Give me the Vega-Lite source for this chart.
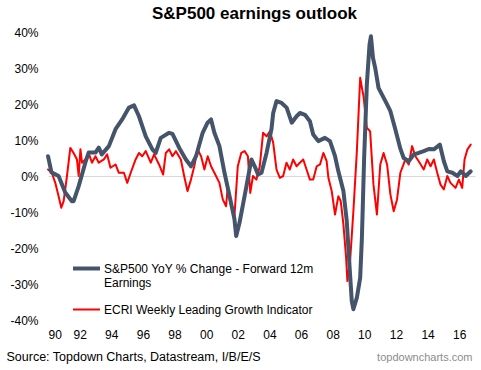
{
  "$schema": "https://vega.github.io/schema/vega-lite/v6.json",
  "width": 427,
  "height": 288,
  "autosize": {"type": "none"},
  "padding": {"left": 48, "top": 32, "right": 6, "bottom": 50},
  "background": "white",
  "title": {"text": "S&P500 earnings outlook", "fontSize": 17, "fontWeight": "bold", "font": "Liberation Sans", "color": "#000000", "anchor": "middle", "frame": "group", "dx": -7, "offset": 3},
  "config": {"view": {"stroke": null}, "font": "Liberation Sans"},
  "data": {"values": [
    {"series": "ECRI Weekly Leading Growth Indicator", "year": 1990.0, "value": 1.8},
    {"series": "ECRI Weekly Leading Growth Indicator", "year": 1990.24, "value": 0.9},
    {"series": "ECRI Weekly Leading Growth Indicator", "year": 1990.46, "value": -1.9},
    {"series": "ECRI Weekly Leading Growth Indicator", "year": 1990.67, "value": -5.6},
    {"series": "ECRI Weekly Leading Growth Indicator", "year": 1990.84, "value": -8.8},
    {"series": "ECRI Weekly Leading Growth Indicator", "year": 1990.99, "value": -7},
    {"series": "ECRI Weekly Leading Growth Indicator", "year": 1991.2, "value": 0},
    {"series": "ECRI Weekly Leading Growth Indicator", "year": 1991.41, "value": 7.8},
    {"series": "ECRI Weekly Leading Growth Indicator", "year": 1991.62, "value": 6.4},
    {"series": "ECRI Weekly Leading Growth Indicator", "year": 1991.83, "value": 4.6},
    {"series": "ECRI Weekly Leading Growth Indicator", "year": 1991.94, "value": 0},
    {"series": "ECRI Weekly Leading Growth Indicator", "year": 1992.05, "value": 7.4},
    {"series": "ECRI Weekly Leading Growth Indicator", "year": 1992.15, "value": 3.7},
    {"series": "ECRI Weekly Leading Growth Indicator", "year": 1992.36, "value": 4.6},
    {"series": "ECRI Weekly Leading Growth Indicator", "year": 1992.57, "value": 6.4},
    {"series": "ECRI Weekly Leading Growth Indicator", "year": 1992.78, "value": 3.7},
    {"series": "ECRI Weekly Leading Growth Indicator", "year": 1993.0, "value": 5.5},
    {"series": "ECRI Weekly Leading Growth Indicator", "year": 1993.21, "value": 3.7},
    {"series": "ECRI Weekly Leading Growth Indicator", "year": 1993.53, "value": 4.6},
    {"series": "ECRI Weekly Leading Growth Indicator", "year": 1993.74, "value": 6},
    {"series": "ECRI Weekly Leading Growth Indicator", "year": 1993.95, "value": 2.3},
    {"series": "ECRI Weekly Leading Growth Indicator", "year": 1994.27, "value": 3.2},
    {"series": "ECRI Weekly Leading Growth Indicator", "year": 1994.48, "value": 0.9},
    {"series": "ECRI Weekly Leading Growth Indicator", "year": 1994.8, "value": 0.9},
    {"series": "ECRI Weekly Leading Growth Indicator", "year": 1995.01, "value": -1.9},
    {"series": "ECRI Weekly Leading Growth Indicator", "year": 1995.23, "value": 0.9},
    {"series": "ECRI Weekly Leading Growth Indicator", "year": 1995.54, "value": 4.6},
    {"series": "ECRI Weekly Leading Growth Indicator", "year": 1995.75, "value": 6.4},
    {"series": "ECRI Weekly Leading Growth Indicator", "year": 1995.96, "value": 5.5},
    {"series": "ECRI Weekly Leading Growth Indicator", "year": 1996.18, "value": 6.9},
    {"series": "ECRI Weekly Leading Growth Indicator", "year": 1996.5, "value": 3.7},
    {"series": "ECRI Weekly Leading Growth Indicator", "year": 1996.71, "value": 6},
    {"series": "ECRI Weekly Leading Growth Indicator", "year": 1997.02, "value": 3.2},
    {"series": "ECRI Weekly Leading Growth Indicator", "year": 1997.28, "value": 0.4},
    {"series": "ECRI Weekly Leading Growth Indicator", "year": 1997.45, "value": 6.4},
    {"series": "ECRI Weekly Leading Growth Indicator", "year": 1997.66, "value": 7.4},
    {"series": "ECRI Weekly Leading Growth Indicator", "year": 1997.87, "value": 5.5},
    {"series": "ECRI Weekly Leading Growth Indicator", "year": 1998.09, "value": 6.9},
    {"series": "ECRI Weekly Leading Growth Indicator", "year": 1998.4, "value": 4.6},
    {"series": "ECRI Weekly Leading Growth Indicator", "year": 1998.61, "value": 0},
    {"series": "ECRI Weekly Leading Growth Indicator", "year": 1998.82, "value": -4.2},
    {"series": "ECRI Weekly Leading Growth Indicator", "year": 1999.04, "value": -1},
    {"series": "ECRI Weekly Leading Growth Indicator", "year": 1999.25, "value": 2.7},
    {"series": "ECRI Weekly Leading Growth Indicator", "year": 1999.46, "value": 7.4},
    {"series": "ECRI Weekly Leading Growth Indicator", "year": 1999.68, "value": 5.5},
    {"series": "ECRI Weekly Leading Growth Indicator", "year": 1999.89, "value": 1.8},
    {"series": "ECRI Weekly Leading Growth Indicator", "year": 2000.1, "value": 5.5},
    {"series": "ECRI Weekly Leading Growth Indicator", "year": 2000.31, "value": 2.7},
    {"series": "ECRI Weekly Leading Growth Indicator", "year": 2000.52, "value": 0.9},
    {"series": "ECRI Weekly Leading Growth Indicator", "year": 2000.84, "value": -1.9},
    {"series": "ECRI Weekly Leading Growth Indicator", "year": 2001.05, "value": -6.5},
    {"series": "ECRI Weekly Leading Growth Indicator", "year": 2001.26, "value": -8.4},
    {"series": "ECRI Weekly Leading Growth Indicator", "year": 2001.37, "value": -2.8},
    {"series": "ECRI Weekly Leading Growth Indicator", "year": 2001.58, "value": -8.4},
    {"series": "ECRI Weekly Leading Growth Indicator", "year": 2001.79, "value": -11.1},
    {"series": "ECRI Weekly Leading Growth Indicator", "year": 2002.0, "value": 2.7},
    {"series": "ECRI Weekly Leading Growth Indicator", "year": 2002.22, "value": 6.4},
    {"series": "ECRI Weekly Leading Growth Indicator", "year": 2002.43, "value": 6.9},
    {"series": "ECRI Weekly Leading Growth Indicator", "year": 2002.64, "value": 5.5},
    {"series": "ECRI Weekly Leading Growth Indicator", "year": 2002.79, "value": -4.7},
    {"series": "ECRI Weekly Leading Growth Indicator", "year": 2002.96, "value": 0},
    {"series": "ECRI Weekly Leading Growth Indicator", "year": 2003.18, "value": -1},
    {"series": "ECRI Weekly Leading Growth Indicator", "year": 2003.39, "value": 2.7},
    {"series": "ECRI Weekly Leading Growth Indicator", "year": 2003.6, "value": 12},
    {"series": "ECRI Weekly Leading Growth Indicator", "year": 2003.82, "value": 11},
    {"series": "ECRI Weekly Leading Growth Indicator", "year": 2004.03, "value": 12.4},
    {"series": "ECRI Weekly Leading Growth Indicator", "year": 2004.24, "value": 9.2},
    {"series": "ECRI Weekly Leading Growth Indicator", "year": 2004.45, "value": 1.8},
    {"series": "ECRI Weekly Leading Growth Indicator", "year": 2004.66, "value": -0.5},
    {"series": "ECRI Weekly Leading Growth Indicator", "year": 2004.87, "value": 0},
    {"series": "ECRI Weekly Leading Growth Indicator", "year": 2005.08, "value": 3.7},
    {"series": "ECRI Weekly Leading Growth Indicator", "year": 2005.29, "value": 1.8},
    {"series": "ECRI Weekly Leading Growth Indicator", "year": 2005.5, "value": 4.6},
    {"series": "ECRI Weekly Leading Growth Indicator", "year": 2005.72, "value": 2.7},
    {"series": "ECRI Weekly Leading Growth Indicator", "year": 2005.93, "value": 3.7},
    {"series": "ECRI Weekly Leading Growth Indicator", "year": 2006.14, "value": 4.6},
    {"series": "ECRI Weekly Leading Growth Indicator", "year": 2006.35, "value": 1.8},
    {"series": "ECRI Weekly Leading Growth Indicator", "year": 2006.56, "value": -1},
    {"series": "ECRI Weekly Leading Growth Indicator", "year": 2006.77, "value": -1},
    {"series": "ECRI Weekly Leading Growth Indicator", "year": 2006.99, "value": 2.7},
    {"series": "ECRI Weekly Leading Growth Indicator", "year": 2007.2, "value": 3.2},
    {"series": "ECRI Weekly Leading Growth Indicator", "year": 2007.41, "value": 6.4},
    {"series": "ECRI Weekly Leading Growth Indicator", "year": 2007.62, "value": 4.1},
    {"series": "ECRI Weekly Leading Growth Indicator", "year": 2007.73, "value": -0.5},
    {"series": "ECRI Weekly Leading Growth Indicator", "year": 2007.94, "value": -4.2},
    {"series": "ECRI Weekly Leading Growth Indicator", "year": 2008.15, "value": -10.7},
    {"series": "ECRI Weekly Leading Growth Indicator", "year": 2008.36, "value": -5.6},
    {"series": "ECRI Weekly Leading Growth Indicator", "year": 2008.51, "value": -7},
    {"series": "ECRI Weekly Leading Growth Indicator", "year": 2008.68, "value": -13.5},
    {"series": "ECRI Weekly Leading Growth Indicator", "year": 2008.85, "value": -22.7},
    {"series": "ECRI Weekly Leading Growth Indicator", "year": 2008.93, "value": -29.2},
    {"series": "ECRI Weekly Leading Growth Indicator", "year": 2009.1, "value": -23.7},
    {"series": "ECRI Weekly Leading Growth Indicator", "year": 2009.31, "value": -9.8},
    {"series": "ECRI Weekly Leading Growth Indicator", "year": 2009.53, "value": 6.9},
    {"series": "ECRI Weekly Leading Growth Indicator", "year": 2009.74, "value": 27.3},
    {"series": "ECRI Weekly Leading Growth Indicator", "year": 2009.85, "value": 24.5},
    {"series": "ECRI Weekly Leading Growth Indicator", "year": 2009.95, "value": 22.2},
    {"series": "ECRI Weekly Leading Growth Indicator", "year": 2010.16, "value": 13.4},
    {"series": "ECRI Weekly Leading Growth Indicator", "year": 2010.37, "value": 12.4},
    {"series": "ECRI Weekly Leading Growth Indicator", "year": 2010.58, "value": -2.4},
    {"series": "ECRI Weekly Leading Growth Indicator", "year": 2010.8, "value": -10.7},
    {"series": "ECRI Weekly Leading Growth Indicator", "year": 2011.01, "value": 3.2},
    {"series": "ECRI Weekly Leading Growth Indicator", "year": 2011.22, "value": 6.4},
    {"series": "ECRI Weekly Leading Growth Indicator", "year": 2011.44, "value": 3.2},
    {"series": "ECRI Weekly Leading Growth Indicator", "year": 2011.65, "value": -5.1},
    {"series": "ECRI Weekly Leading Growth Indicator", "year": 2011.86, "value": -9.8},
    {"series": "ECRI Weekly Leading Growth Indicator", "year": 2012.07, "value": -6.5},
    {"series": "ECRI Weekly Leading Growth Indicator", "year": 2012.28, "value": 0.9},
    {"series": "ECRI Weekly Leading Growth Indicator", "year": 2012.6, "value": 4.6},
    {"series": "ECRI Weekly Leading Growth Indicator", "year": 2012.81, "value": 3.2},
    {"series": "ECRI Weekly Leading Growth Indicator", "year": 2013.02, "value": 8.3},
    {"series": "ECRI Weekly Leading Growth Indicator", "year": 2013.23, "value": 5.5},
    {"series": "ECRI Weekly Leading Growth Indicator", "year": 2013.44, "value": 4.1},
    {"series": "ECRI Weekly Leading Growth Indicator", "year": 2013.76, "value": 1.8},
    {"series": "ECRI Weekly Leading Growth Indicator", "year": 2013.98, "value": 4.6},
    {"series": "ECRI Weekly Leading Growth Indicator", "year": 2014.19, "value": 2.7},
    {"series": "ECRI Weekly Leading Growth Indicator", "year": 2014.4, "value": 4.6},
    {"series": "ECRI Weekly Leading Growth Indicator", "year": 2014.61, "value": 0.9},
    {"series": "ECRI Weekly Leading Growth Indicator", "year": 2014.82, "value": -2.4},
    {"series": "ECRI Weekly Leading Growth Indicator", "year": 2015.03, "value": -3.7},
    {"series": "ECRI Weekly Leading Growth Indicator", "year": 2015.25, "value": 0},
    {"series": "ECRI Weekly Leading Growth Indicator", "year": 2015.45, "value": -1.9},
    {"series": "ECRI Weekly Leading Growth Indicator", "year": 2015.77, "value": -3.3},
    {"series": "ECRI Weekly Leading Growth Indicator", "year": 2015.98, "value": -1},
    {"series": "ECRI Weekly Leading Growth Indicator", "year": 2016.19, "value": -3.3},
    {"series": "ECRI Weekly Leading Growth Indicator", "year": 2016.34, "value": 4.6},
    {"series": "ECRI Weekly Leading Growth Indicator", "year": 2016.52, "value": 7.4},
    {"series": "ECRI Weekly Leading Growth Indicator", "year": 2016.73, "value": 8.7},
    {"series": "S&P500 YoY % Change - Forward 12m Earnings", "year": 1990.0, "value": 5.5},
    {"series": "S&P500 YoY % Change - Forward 12m Earnings", "year": 1990.22, "value": 1},
    {"series": "S&P500 YoY % Change - Forward 12m Earnings", "year": 1990.67, "value": 0},
    {"series": "S&P500 YoY % Change - Forward 12m Earnings", "year": 1991.09, "value": -4.6},
    {"series": "S&P500 YoY % Change - Forward 12m Earnings", "year": 1991.51, "value": -7},
    {"series": "S&P500 YoY % Change - Forward 12m Earnings", "year": 1991.62, "value": -7},
    {"series": "S&P500 YoY % Change - Forward 12m Earnings", "year": 1991.94, "value": -2.8},
    {"series": "S&P500 YoY % Change - Forward 12m Earnings", "year": 1992.36, "value": 3.7},
    {"series": "S&P500 YoY % Change - Forward 12m Earnings", "year": 1992.57, "value": 6.5},
    {"series": "S&P500 YoY % Change - Forward 12m Earnings", "year": 1993.0, "value": 6.5},
    {"series": "S&P500 YoY % Change - Forward 12m Earnings", "year": 1993.21, "value": 7.9},
    {"series": "S&P500 YoY % Change - Forward 12m Earnings", "year": 1993.4, "value": 6},
    {"series": "S&P500 YoY % Change - Forward 12m Earnings", "year": 1993.85, "value": 8.3},
    {"series": "S&P500 YoY % Change - Forward 12m Earnings", "year": 1994.27, "value": 13},
    {"series": "S&P500 YoY % Change - Forward 12m Earnings", "year": 1994.69, "value": 15.7},
    {"series": "S&P500 YoY % Change - Forward 12m Earnings", "year": 1995.12, "value": 19},
    {"series": "S&P500 YoY % Change - Forward 12m Earnings", "year": 1995.44, "value": 19.6},
    {"series": "S&P500 YoY % Change - Forward 12m Earnings", "year": 1995.75, "value": 16.6},
    {"series": "S&P500 YoY % Change - Forward 12m Earnings", "year": 1996.18, "value": 11},
    {"series": "S&P500 YoY % Change - Forward 12m Earnings", "year": 1996.6, "value": 7.4},
    {"series": "S&P500 YoY % Change - Forward 12m Earnings", "year": 1996.81, "value": 6.4},
    {"series": "S&P500 YoY % Change - Forward 12m Earnings", "year": 1997.13, "value": 10.6},
    {"series": "S&P500 YoY % Change - Forward 12m Earnings", "year": 1997.66, "value": 12},
    {"series": "S&P500 YoY % Change - Forward 12m Earnings", "year": 1997.87, "value": 11.7},
    {"series": "S&P500 YoY % Change - Forward 12m Earnings", "year": 1998.3, "value": 7.8},
    {"series": "S&P500 YoY % Change - Forward 12m Earnings", "year": 1998.72, "value": 4.6},
    {"series": "S&P500 YoY % Change - Forward 12m Earnings", "year": 1999.04, "value": 2.7},
    {"series": "S&P500 YoY % Change - Forward 12m Earnings", "year": 1999.36, "value": 5.5},
    {"series": "S&P500 YoY % Change - Forward 12m Earnings", "year": 1999.78, "value": 12},
    {"series": "S&P500 YoY % Change - Forward 12m Earnings", "year": 2000.09, "value": 14.8},
    {"series": "S&P500 YoY % Change - Forward 12m Earnings", "year": 2000.31, "value": 15.7},
    {"series": "S&P500 YoY % Change - Forward 12m Earnings", "year": 2000.52, "value": 12},
    {"series": "S&P500 YoY % Change - Forward 12m Earnings", "year": 2000.84, "value": 8.3},
    {"series": "S&P500 YoY % Change - Forward 12m Earnings", "year": 2001.16, "value": 0.9},
    {"series": "S&P500 YoY % Change - Forward 12m Earnings", "year": 2001.48, "value": -5.6},
    {"series": "S&P500 YoY % Change - Forward 12m Earnings", "year": 2001.79, "value": -12},
    {"series": "S&P500 YoY % Change - Forward 12m Earnings", "year": 2001.9, "value": -16.7},
    {"series": "S&P500 YoY % Change - Forward 12m Earnings", "year": 2002.11, "value": -13},
    {"series": "S&P500 YoY % Change - Forward 12m Earnings", "year": 2002.54, "value": -3},
    {"series": "S&P500 YoY % Change - Forward 12m Earnings", "year": 2002.86, "value": 4.6},
    {"series": "S&P500 YoY % Change - Forward 12m Earnings", "year": 2003.07, "value": 2.7},
    {"series": "S&P500 YoY % Change - Forward 12m Earnings", "year": 2003.28, "value": 0.4},
    {"series": "S&P500 YoY % Change - Forward 12m Earnings", "year": 2003.5, "value": 0.9},
    {"series": "S&P500 YoY % Change - Forward 12m Earnings", "year": 2003.82, "value": 6.4},
    {"series": "S&P500 YoY % Change - Forward 12m Earnings", "year": 2004.13, "value": 13},
    {"series": "S&P500 YoY % Change - Forward 12m Earnings", "year": 2004.24, "value": 17.5},
    {"series": "S&P500 YoY % Change - Forward 12m Earnings", "year": 2004.45, "value": 20.8},
    {"series": "S&P500 YoY % Change - Forward 12m Earnings", "year": 2004.77, "value": 20.3},
    {"series": "S&P500 YoY % Change - Forward 12m Earnings", "year": 2005.09, "value": 19},
    {"series": "S&P500 YoY % Change - Forward 12m Earnings", "year": 2005.41, "value": 14.8},
    {"series": "S&P500 YoY % Change - Forward 12m Earnings", "year": 2005.72, "value": 16.6},
    {"series": "S&P500 YoY % Change - Forward 12m Earnings", "year": 2005.93, "value": 17.5},
    {"series": "S&P500 YoY % Change - Forward 12m Earnings", "year": 2006.25, "value": 17},
    {"series": "S&P500 YoY % Change - Forward 12m Earnings", "year": 2006.56, "value": 15.2},
    {"series": "S&P500 YoY % Change - Forward 12m Earnings", "year": 2006.77, "value": 11.5},
    {"series": "S&P500 YoY % Change - Forward 12m Earnings", "year": 2007.09, "value": 9.7},
    {"series": "S&P500 YoY % Change - Forward 12m Earnings", "year": 2007.51, "value": 10.6},
    {"series": "S&P500 YoY % Change - Forward 12m Earnings", "year": 2007.83, "value": 9.7},
    {"series": "S&P500 YoY % Change - Forward 12m Earnings", "year": 2008.15, "value": 5.5},
    {"series": "S&P500 YoY % Change - Forward 12m Earnings", "year": 2008.36, "value": 1.3},
    {"series": "S&P500 YoY % Change - Forward 12m Earnings", "year": 2008.68, "value": -4.2},
    {"series": "S&P500 YoY % Change - Forward 12m Earnings", "year": 2008.89, "value": -12.5},
    {"series": "S&P500 YoY % Change - Forward 12m Earnings", "year": 2009.06, "value": -24.6},
    {"series": "S&P500 YoY % Change - Forward 12m Earnings", "year": 2009.21, "value": -34.8},
    {"series": "S&P500 YoY % Change - Forward 12m Earnings", "year": 2009.31, "value": -37},
    {"series": "S&P500 YoY % Change - Forward 12m Earnings", "year": 2009.53, "value": -33.8},
    {"series": "S&P500 YoY % Change - Forward 12m Earnings", "year": 2009.74, "value": -28.3},
    {"series": "S&P500 YoY % Change - Forward 12m Earnings", "year": 2009.85, "value": -17},
    {"series": "S&P500 YoY % Change - Forward 12m Earnings", "year": 2009.99, "value": 5},
    {"series": "S&P500 YoY % Change - Forward 12m Earnings", "year": 2010.16, "value": 25.4},
    {"series": "S&P500 YoY % Change - Forward 12m Earnings", "year": 2010.33, "value": 36.5},
    {"series": "S&P500 YoY % Change - Forward 12m Earnings", "year": 2010.42, "value": 38.8},
    {"series": "S&P500 YoY % Change - Forward 12m Earnings", "year": 2010.55, "value": 32.8},
    {"series": "S&P500 YoY % Change - Forward 12m Earnings", "year": 2010.69, "value": 30},
    {"series": "S&P500 YoY % Change - Forward 12m Earnings", "year": 2010.9, "value": 24.5},
    {"series": "S&P500 YoY % Change - Forward 12m Earnings", "year": 2011.12, "value": 22.6},
    {"series": "S&P500 YoY % Change - Forward 12m Earnings", "year": 2011.44, "value": 19.9},
    {"series": "S&P500 YoY % Change - Forward 12m Earnings", "year": 2011.65, "value": 18},
    {"series": "S&P500 YoY % Change - Forward 12m Earnings", "year": 2011.96, "value": 13},
    {"series": "S&P500 YoY % Change - Forward 12m Earnings", "year": 2012.28, "value": 7.6},
    {"series": "S&P500 YoY % Change - Forward 12m Earnings", "year": 2012.49, "value": 5},
    {"series": "S&P500 YoY % Change - Forward 12m Earnings", "year": 2012.81, "value": 4.1},
    {"series": "S&P500 YoY % Change - Forward 12m Earnings", "year": 2013.13, "value": 6},
    {"series": "S&P500 YoY % Change - Forward 12m Earnings", "year": 2013.44, "value": 6.4},
    {"series": "S&P500 YoY % Change - Forward 12m Earnings", "year": 2013.76, "value": 6.9},
    {"series": "S&P500 YoY % Change - Forward 12m Earnings", "year": 2014.08, "value": 7.5},
    {"series": "S&P500 YoY % Change - Forward 12m Earnings", "year": 2014.4, "value": 7.4},
    {"series": "S&P500 YoY % Change - Forward 12m Earnings", "year": 2014.78, "value": 8.7},
    {"series": "S&P500 YoY % Change - Forward 12m Earnings", "year": 2015.03, "value": 4.1},
    {"series": "S&P500 YoY % Change - Forward 12m Earnings", "year": 2015.25, "value": 1.3},
    {"series": "S&P500 YoY % Change - Forward 12m Earnings", "year": 2015.57, "value": 0.9},
    {"series": "S&P500 YoY % Change - Forward 12m Earnings", "year": 2015.89, "value": 0},
    {"series": "S&P500 YoY % Change - Forward 12m Earnings", "year": 2016.1, "value": 1.3},
    {"series": "S&P500 YoY % Change - Forward 12m Earnings", "year": 2016.42, "value": 0},
    {"series": "S&P500 YoY % Change - Forward 12m Earnings", "year": 2016.73, "value": 1.3}
  ]},
  "mark": {"type": "line", "strokeJoin": "round", "strokeCap": "round"},
  "encoding": {
    "x": {"field": "year", "type": "quantitative", "scale": {"domain": [1990, 2017], "nice": false, "zero": false},
      "axis": {"values": [1990, 1992, 1994, 1996, 1998, 2000, 2002, 2004, 2006, 2008, 2010, 2012, 2014, 2016],
        "labelExpr": "slice(toString(datum.value), 2)", "domain": false, "ticks": false, "grid": false,
        "labelPadding": 9, "labelFontSize": 12, "labelColor": "#000000", "labelFont": "Liberation Sans",
        "title": "Source: Topdown Charts, Datastream, I/B/E/S", "titleX": -42, "titleY": 40, "titleAlign": "left", "titleAnchor": null,
        "titleBaseline": "alphabetic", "titleFontSize": 12.5, "titleFontWeight": "normal", "titleColor": "#000000", "titleFont": "Liberation Sans"}},
    "y": {"field": "value", "type": "quantitative", "scale": {"domain": [-40, 40], "nice": false},
      "axis": {"values": [-40, -30, -20, -10, 0, 10, 20, 30, 40], "labelExpr": "datum.value + '%'", "labelOverlap": false, "domain": false, "ticks": false,
        "grid": true, "gridColor": {"condition": {"test": "datum.value === 0", "value": "#D9D9D9"}, "value": "transparent"}, "gridWidth": 1,
        "labelPadding": 10, "labelFontSize": 12, "labelColor": "#000000", "labelFont": "Liberation Sans",
        "title": "topdowncharts.com", "titleAngle": 0, "titleX": 424, "titleY": 328, "titleAlign": "right", "titleBaseline": "alphabetic",
        "titleFontSize": 11, "titleFontWeight": "normal", "titleColor": "#8C8C8C", "titleFont": "Liberation Sans"}},
    "color": {"field": "series", "type": "nominal",
      "scale": {"domain": ["S&P500 YoY % Change - Forward 12m Earnings", "ECRI Weekly Leading Growth Indicator"], "range": ["#44546A", "#FF0000"]},
      "legend": {"orient": "none", "legendX": 23, "legendY": 221, "title": null, "symbolType": "stroke", "symbolSize": 729,
        "labelFontSize": 12, "labelFont": "Liberation Sans", "labelColor": "#000000", "labelLimit": 400, "labelOffset": 2, "rowPadding": 6,
        "labelExpr": "datum.label == 'S&P500 YoY % Change - Forward 12m Earnings' ? ['S&P500 YoY % Change - Forward 12m', 'Earnings'] : datum.label"}},
    "strokeWidth": {"field": "series", "type": "nominal",
      "scale": {"domain": ["S&P500 YoY % Change - Forward 12m Earnings", "ECRI Weekly Leading Growth Indicator"], "range": [4, 2]}}
  }
}
